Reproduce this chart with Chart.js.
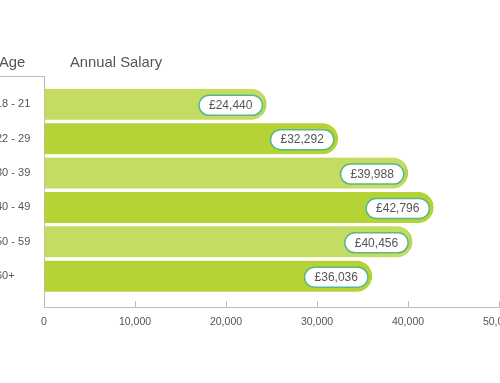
<!DOCTYPE html>
<html>
<head>
<meta charset="utf-8">
<script src="https://cdn.jsdelivr.net/npm/chart.js@4.4.1/dist/chart.umd.min.js"></script>
<style>
    html, body { margin: 0; padding: 0; background: #fff; }
    #wrap { width: 500px; height: 383px; position: relative; }
</style>
</head>
<body>
<div id="wrap"><canvas id="salaryChart"></canvas></div>
<script>
// --- data ---
const ageGroups = ['18 - 21', '22 - 29', '30 - 39', '40 - 49', '50 - 59', '60+'];
const salaries  = [24440, 32292, 39988, 42796, 40456, 36036];
const xTicks    = [0, 10000, 20000, 30000, 40000, 50000];

const FONT = "'Liberation Sans', Arial, Helvetica, sans-serif";
const lightGreen = '#c5dc62';
const darkGreen  = '#b5d334';

Chart.defaults.font.family = FONT;
Chart.defaults.color = '#555';

// pills with the £ value at the end of each bar + header texts
const decoPlugin = {
    id: 'deco',
    afterDatasetsDraw(chart) {
        const ctx = chart.ctx;
        const meta = chart.getDatasetMeta(0);
        ctx.save();
        ctx.font = '12px ' + FONT;
        ctx.textBaseline = 'middle';
        ctx.textAlign = 'center';
        meta.data.forEach((bar, i) => {
            const txt = '£' + salaries[i].toLocaleString('en-GB');
            const w = ctx.measureText(txt).width + 20;
            const h = 20;
            const right = bar.x - 4;
            const cy = bar.y + 1;
            ctx.beginPath();
            ctx.roundRect(right - w, cy - h / 2, w, h, h / 2);
            ctx.fillStyle = '#fff';
            ctx.fill();
            ctx.lineWidth = 1.5;
            ctx.strokeStyle = '#5ab88c';
            ctx.stroke();
            ctx.fillStyle = '#555';
            ctx.fillText(txt, right - w / 2, cy + 0.5);
        });
        ctx.restore();
    },
    afterDraw(chart) {
        const ctx = chart.ctx;
        const area = chart.chartArea;
        ctx.save();
        // top edge of the label column
        ctx.strokeStyle = '#bbb';
        ctx.lineWidth = 1;
        ctx.beginPath();
        ctx.moveTo(0, area.top + 0.5);
        ctx.lineTo(area.left, area.top + 0.5);
        ctx.stroke();
        // headers
        ctx.font = '14.8px ' + FONT;
        ctx.fillStyle = '#555';
        ctx.textBaseline = 'middle';
        ctx.fillText('Age', -1, 62.5);
        ctx.fillText('Annual Salary', 70, 62.5);
        ctx.restore();
    }
};

new Chart(document.getElementById('salaryChart'), {
    type: 'bar',
    data: {
        datasets: [{
            data: salaries.map((v, i) => ({ x: v, y: i })),
            backgroundColor: salaries.map((v, i) => i % 2 === 0 ? lightGreen : darkGreen),
            borderColor: salaries.map((v, i) => i % 2 === 0 ? '#b9d446' : '#b2d626'),
            borderWidth: { top: 0, bottom: 0, left: 0, right: 3 },
            borderSkipped: false,
            borderRadius: { topRight: 16, bottomRight: 16, topLeft: 0, bottomLeft: 0 },
            barThickness: 31
        }]
    },
    plugins: [decoPlugin],
    options: {
        indexAxis: 'y',
        responsive: true,
        maintainAspectRatio: false,
        animation: false,
        layout: { padding: { top: 76, left: -4, right: 1, bottom: 0 } },
        plugins: {
            legend: { display: false },
            tooltip: { enabled: false }
        },
        scales: {
            x: {
                type: 'linear',
                min: 0,
                max: 50000,
                afterBuildTicks: (scale) => { scale.ticks = xTicks.map(v => ({ value: v })); },
                afterFit: (scale) => {
                    scale.height = 76;
                    scale.paddingLeft = 0;
                    scale.paddingRight = 0;
                },
                ticks: {
                    padding: 15,
                    font: { size: 10.5 },
                    color: '#555',
                    callback: (v) => v.toLocaleString('en-GB')
                },
                grid: {
                    drawOnChartArea: false,
                    drawTicks: true,
                    tickLength: -6,
                    color: '#bbb'
                },
                border: { display: true, color: '#bbb' }
            },
            y: {
                type: 'linear',
                reverse: true,
                offset: false,
                bounds: 'data',
                min: -0.823,
                max: 5.896,
                afterBuildTicks: (scale) => { scale.ticks = ageGroups.map((c, i) => ({ value: i })); },
                afterFit: (scale) => {
                    scale.width = 48;
                    scale.paddingTop = 0;
                    scale.paddingBottom = 0;
                },
                ticks: {
                    crossAlign: 'far',
                    font: { size: 11 },
                    color: '#555',
                    callback: (v) => ageGroups[v]
                },
                grid: { display: false, offset: false },
                border: { display: true, color: '#bbb' }
            }
        }
    }
});
</script>
</body>
</html>
